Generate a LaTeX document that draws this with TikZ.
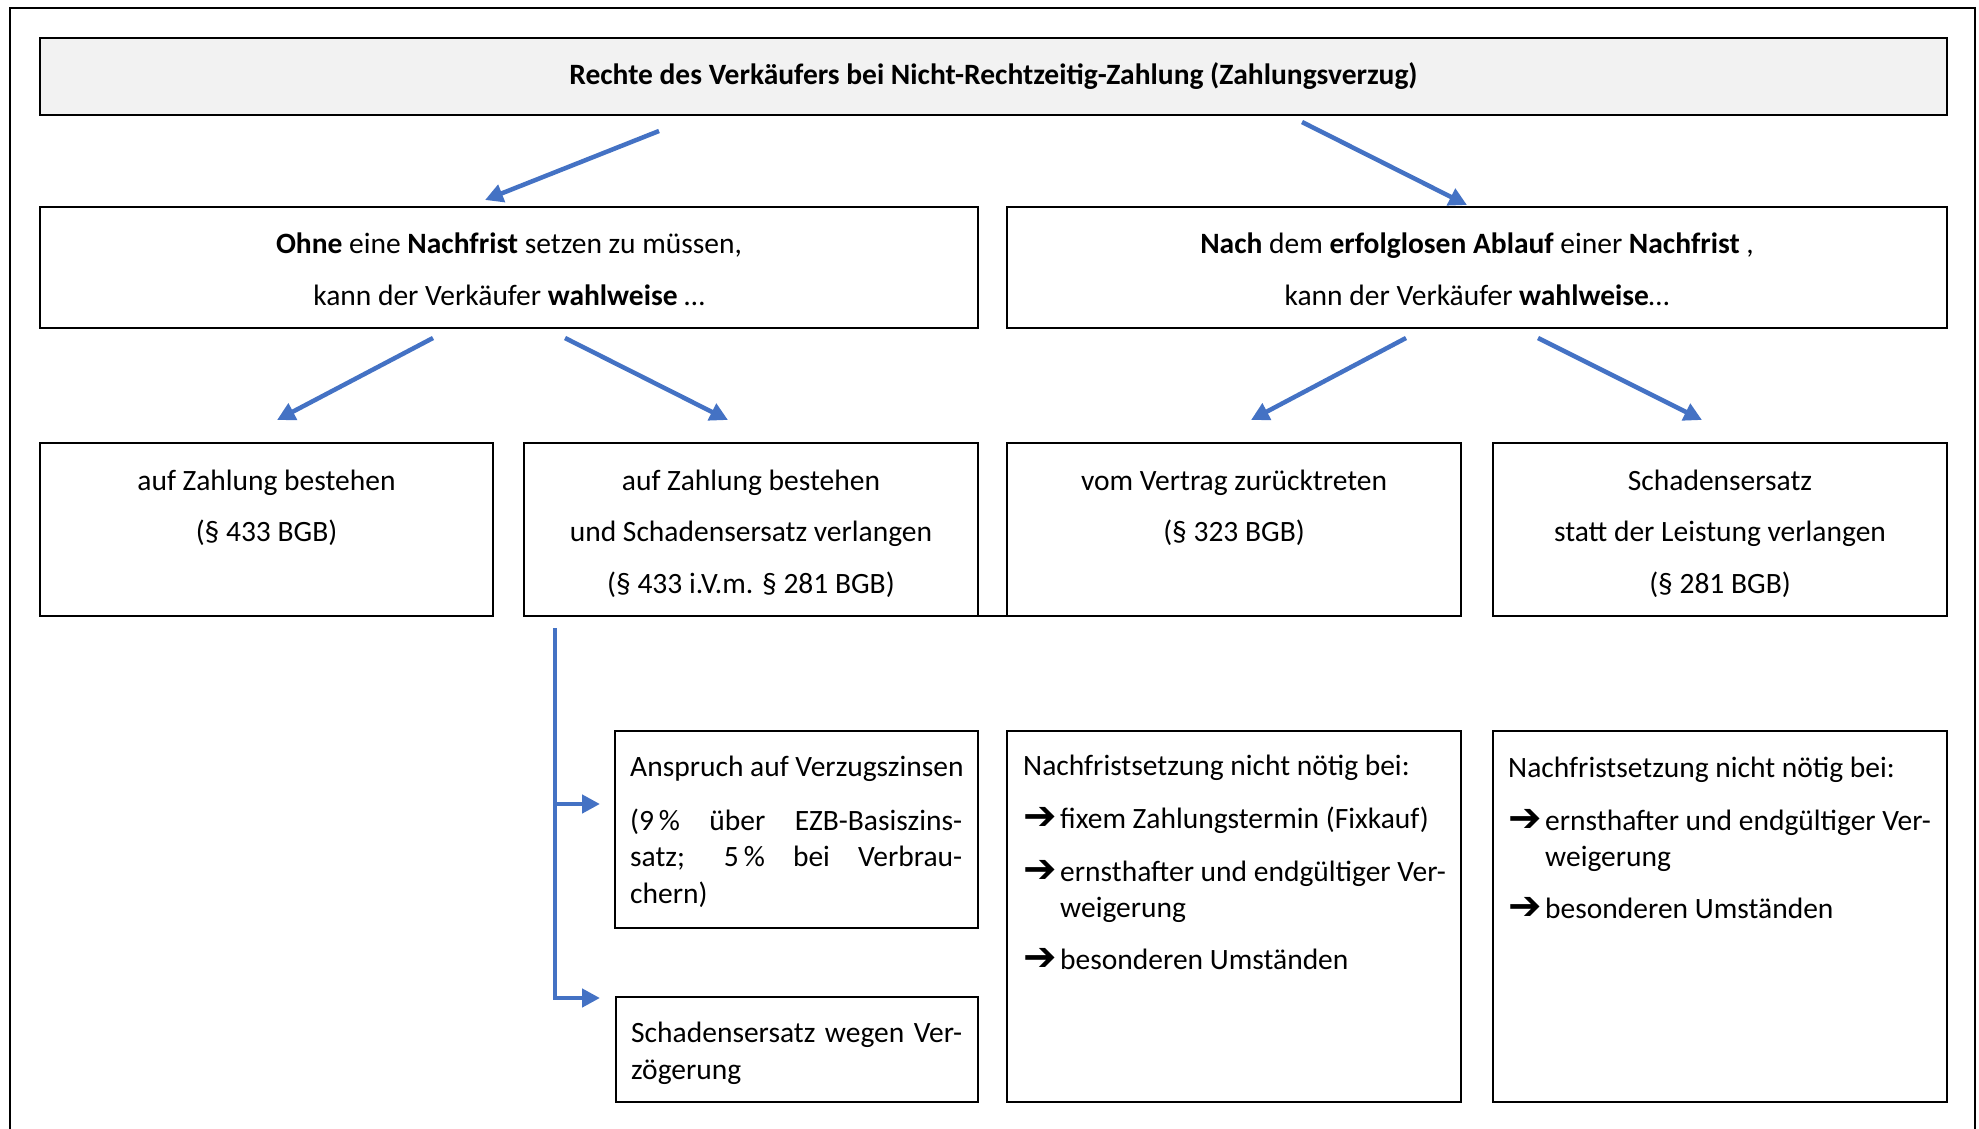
\documentclass[tikz,border=0pt]{standalone}
\usepackage{fontspec}
\setmainfont{Carlito}
\newfontfamily\dejavu{DejaVu Sans}
\usetikzlibrary{arrows.meta,calc}
\definecolor{conblue}{RGB}{68,114,196}
\definecolor{titlegray}{RGB}{242,242,242}
\newcommand{\myarr}{\makebox[37pt][l]{\raisebox{-1pt}{\dejavu\fontsize{40}{40}\selectfont ➔}}}
\begin{document}
\begin{tikzpicture}[x=1pt,y=-1pt,
  box/.style={draw=black, line width=2pt, inner sep=0pt, outer sep=0pt, anchor=north west},
  txt/.style={inner sep=0pt, font=\fontsize{29.5}{36.5}\selectfont},
  conn/.style={draw=conblue, line width=4.5pt, -{Triangle[length=18pt,width=18pt]}},
  frame/.style={draw=black, line width=2pt}]
\useasboundingbox (0,0) rectangle (1979,1129);
\draw[frame] (10,1135) -- (10,8) -- (1975,8) -- (1975,1135);

% boxes
\node[box, fill=titlegray, minimum width=1907pt, minimum height=77pt] (T) at (40,38) {};
\node[box, minimum width=938pt, minimum height=121pt] (O) at (40,207) {};
\node[box, minimum width=940pt, minimum height=121pt] (N) at (1007,207) {};
\node[box, minimum width=453pt, minimum height=173pt] (A) at (40,443) {};
\node[box, minimum width=454pt, minimum height=173pt] (B) at (524,443) {};
\node[box, minimum width=454pt, minimum height=173pt] (C) at (1007,443) {};
\node[box, minimum width=454pt, minimum height=173pt] (D) at (1493,443) {};
\node[box, minimum width=363pt, minimum height=197pt] (E) at (615,731) {};
\node[box, minimum width=362pt, minimum height=105pt] (F) at (616,997) {};
\node[box, minimum width=454pt, minimum height=371pt] (G) at (1007,731) {};
\node[box, minimum width=454pt, minimum height=371pt] (H) at (1493,731) {};
\draw[frame] (B.south east) -- (C.south west);

% texts (anchored at the baseline of the last line)
\node[txt, anchor=base] (Tt) at (993.5,84.5) {\textbf{Rechte des Verkäufers bei Nicht-Rechtzeitig-Zahlung (Zahlungsverzug)}};
\node[txt, anchor=base, align=center] (Ot) at (509,305) {\textbf{Ohne} eine \textbf{Nachfrist} setzen zu müssen,\\[15pt]kann der Verkäufer \textbf{wahlweise} …};
\node[txt, anchor=base, align=center] (Nt) at (1477,305) {\textbf{Nach} dem \textbf{erfolglosen Ablauf} einer \textbf{Nachfrist} ,\\[15pt]kann der Verkäufer \textbf{wahlweise}…};
\node[txt, anchor=base, align=center] (At) at (266.5,541.5) {auf Zahlung bestehen\\[15pt](§ 433 BGB)};
\node[txt, anchor=base, align=center] (Bt) at (751,593) {auf Zahlung bestehen\\[15pt]und Schadensersatz verlangen\\[15pt](§ 433 i.V.m. § 281 BGB)};
\node[txt, anchor=base, align=center] (Ct) at (1234,541.5) {vom Vertrag zurücktreten\\[15pt](§ 323 BGB)};
\node[txt, anchor=base, align=center] (Dt) at (1720,593) {Schadensersatz\\[15pt]statt der Leistung verlangen\\[15pt](§ 281 BGB)};
\node[txt, anchor=base west, align=left] (Et) at (630,903) {Anspruch auf Verzugszinsen\\[17pt]\makebox[332pt][s]{(9\,\% über EZB-Basiszins-}\\\makebox[332pt][s]{satz; 5\,\% bei Verbrau-}\\chern)};
\node[txt, anchor=base west, align=left] (Ft) at (631,1079) {\makebox[331pt][s]{Schadensersatz wegen Ver-}\\zögerung};
\node[txt, anchor=base west, align=left] (Gt) at (1023,969) {Nachfristsetzung nicht nötig bei:\\[16.5pt]\myarr fixem Zahlungstermin (Fixkauf)\\[16.5pt]\myarr ernsthafter und endgültiger Ver-\\\hspace*{37pt}weigerung\\[15pt]\myarr besonderen Umständen};
\node[txt, anchor=base west, align=left] (Ht) at (1508,918) {Nachfristsetzung nicht nötig bei:\\[16.5pt]\myarr ernsthafter und endgültiger Ver-\\\hspace*{37pt}weigerung\\[15pt]\myarr besonderen Umständen};

% connectors
\draw[conn] ([shift={(619,16)}]T.south west) -- ([shift={(445,-7)}]O.north west);
\draw[conn] ([shift={(1262,7)}]T.south west) -- ([shift={(460,-2)}]N.north west);
\draw[conn] ([shift={(393,10)}]O.south west) -- ([shift={(237,-23)}]A.north west);
\draw[conn] ([shift={(525,10)}]O.south west) -- ([shift={(204,-23)}]B.north west);
\draw[conn] ([shift={(399,10)}]N.south west) -- ([shift={(244,-23)}]C.north west);
\draw[conn] ([shift={(531,10)}]N.south west) -- ([shift={(209,-23)}]D.north west);
\coordinate (sp) at ([shift={(31,12)}]B.south west);
\draw[conn] (sp) |- ([shift={(-15,-25.5)}]E.west);
\draw[conn] (sp) |- ([shift={(-16,1)}]F.north west);
\end{tikzpicture}
\end{document}
